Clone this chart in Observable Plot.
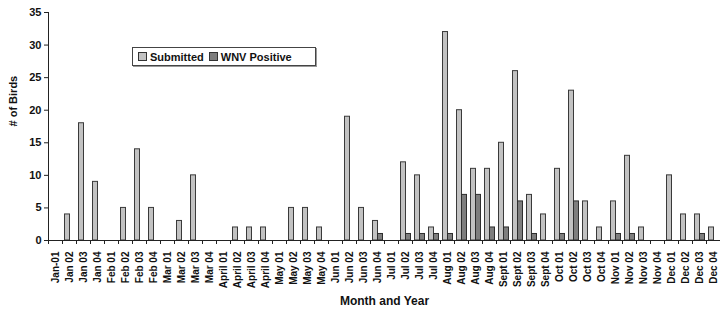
<!DOCTYPE html>
<html>
<head>
<meta charset="utf-8">
<script src="https://cdn.jsdelivr.net/npm/d3@7"></script>
<script src="https://cdn.jsdelivr.net/npm/@observablehq/plot@0.6"></script>
<style>
  html, body { margin: 0; padding: 0; background: #fff; }
  #wrap { position: relative; width: 722px; height: 318px; font-family: "Liberation Sans", Arial, sans-serif; }
  #legend { position: absolute; left: 132px; top: 47px; width: 182px; height: 17px; border: 1px solid #444;
    box-shadow: 1px 1px 0 #999; background: #fff; display: flex; align-items: center; font-weight: bold; font-size: 11px; color: #111; }
  .sw { display: inline-block; width: 7px; height: 7px; border: 1px solid #333; margin: 0 3px 0 5px; }
</style>
</head>
<body>
<div id="wrap"></div>
<script>
const categories = [
  "Jan-01","Jan 02","Jan 03","Jan 04",
  "Feb 01","Feb 02","Feb 03","Feb 04",
  "Mar 01","Mar 02","Mar 03","Mar 04",
  "April 01","April 02","April 03","April 04",
  "May 01","May 02","May 03","May 04",
  "Jun 01","Jun 02","Jun 03","Jun 04",
  "Jul 01","Jul 02","Jul 03","Jul 04",
  "Aug 01","Aug 02","Aug 03","Aug 04",
  "Sept 01","Sept 02","Sept 03","Sept 04",
  "Oct 01","Oct 02","Oct 03","Oct 04",
  "Nov 01","Nov 02","Nov 03","Nov 04",
  "Dec 01","Dec 02","Dec 03","Dec 04"
];
const submitted = [
  0,4,18,9,
  0,5,14,5,
  0,3,10,0,
  0,2,2,2,
  0,5,5,2,
  0,19,5,3,
  0,12,10,2,
  32,20,11,11,
  15,26,7,4,
  11,23,6,2,
  6,13,2,0,
  10,4,4,2
];
const wnvPositive = [
  0,0,0,0,
  0,0,0,0,
  0,0,0,0,
  0,0,0,0,
  0,0,0,0,
  0,0,0,1,
  0,1,1,1,
  1,7,7,2,
  2,6,1,0,
  1,6,0,0,
  1,1,0,0,
  0,0,1,0
];
const yTicks = [0,5,10,15,20,25,30,35];
const seriesNames = ["Submitted", "WNV Positive"];
const colors = { "Submitted": "#c2c2c2", "WNV Positive": "#7e7e7e" };

const subData = categories.map((c, i) => ({cat: c, v: submitted[i]}));
const posData = categories.map((c, i) => ({cat: c, v: wnvPositive[i]}));

const chart = Plot.plot({
  width: 722,
  height: 318,
  marginLeft: 48,
  marginRight: 2,
  marginTop: 12,
  marginBottom: 78,
  style: { fontFamily: "'Liberation Sans', Arial, sans-serif", fontWeight: "bold", fontSize: "10px", color: "#111", background: "#fff" },
  x: { domain: categories, padding: 0, label: null },
  y: { domain: [0, 35], label: null },
  marks: [
    Plot.barY(subData, {x: "cat", y: "v", filter: d => d.v > 0, fill: colors["Submitted"], stroke: "#3a3a3a", strokeWidth: 1, insetLeft: 2.5, insetRight: 6.5}),
    Plot.barY(posData, {x: "cat", y: "v", filter: d => d.v > 0, fill: colors["WNV Positive"], stroke: "#2e2e2e", strokeWidth: 1, insetLeft: 7.5, insetRight: 1.5}),
    Plot.ruleY([0], {stroke: "#222"}),
    Plot.frame({anchor: "left", stroke: "#222"}),
    Plot.axisY({ticks: yTicks, tickSize: 4, tickPadding: 3, tickFormat: d => String(d), fontSize: 11, fontWeight: "bold", label: null, stroke: "#222"}),
    Plot.axisX({tickSize: 4, tickFormat: () => "", dx: -7, label: null, stroke: "#222"}),
    Plot.axisX({tickSize: 0, tickPadding: 11, tickRotate: -90, fontSize: 10, fontWeight: "bold", label: null}),
    Plot.text(["Month and Year"], {frameAnchor: "bottom", dy: 64, fontSize: 12, fontWeight: "bold", fill: "#111"}),
    Plot.text(["# of Birds"], {frameAnchor: "left", dx: -35, rotate: -90, fontSize: 11, fontWeight: "bold", fill: "#111"})
  ]
});

const wrap = document.getElementById("wrap");
wrap.appendChild(chart);

const legend = document.createElement("div");
legend.id = "legend";
seriesNames.forEach((name, i) => {
  const sw = document.createElement("span");
  sw.className = "sw";
  sw.style.background = colors[name];
  legend.appendChild(sw);
  const t = document.createElement("span");
  t.textContent = name;
  legend.appendChild(t);
});
wrap.appendChild(legend);
</script>
</body>
</html>
